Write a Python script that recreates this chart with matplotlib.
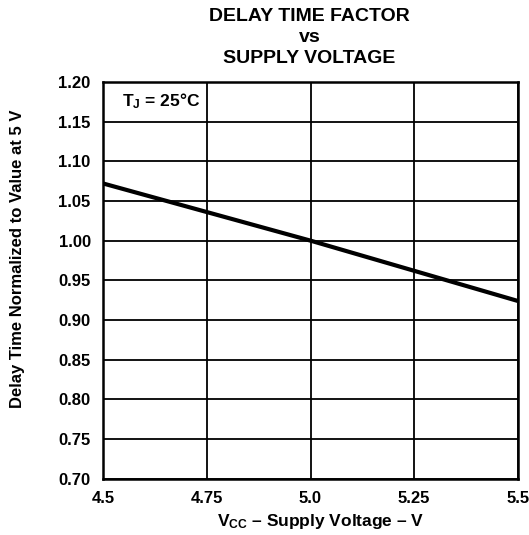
import matplotlib
matplotlib.use("Agg")
import matplotlib.pyplot as plt

plt.rcParams['font.family'] = ['Liberation Sans', 'DejaVu Sans']
plt.rcParams['font.weight'] = 'bold'
plt.rcParams['mathtext.default'] = 'bf'
plt.rcParams['mathtext.fontset'] = 'custom'
plt.rcParams['mathtext.bf'] = 'Liberation Sans:bold'
plt.rcParams['mathtext.rm'] = 'Liberation Sans:bold'

vcc = [4.5, 5.0, 5.5]
factor = [1.072, 1.0, 0.924]
xticks = [4.5, 4.75, 5.0, 5.25, 5.5]
xticklabels = ['4.5', '4.75', '5.0', '5.25', '5.5']
yticks = [0.70, 0.75, 0.80, 0.85, 0.90, 0.95, 1.00, 1.05, 1.10, 1.15, 1.20]

fig = plt.figure(figsize=(5.29, 5.35), dpi=100)
ax = fig.add_axes([0.195, 0.105, 0.784, 0.742])
ax.set_xlim(4.5, 5.5)
ax.set_ylim(0.70, 1.20)
ax.set_xticks(xticks)
ax.set_xticklabels(xticklabels)
ax.set_yticks(yticks)
ax.set_yticklabels([f"{v:.2f}" for v in yticks])
ax.grid(True, color='black', linewidth=1.3)
ax.tick_params(length=0, labelsize=12, pad=9)
for s in ax.spines.values():
    s.set_linewidth(1.8)
ax.plot(vcc, factor, color='black', linewidth=3, solid_capstyle='butt')
ax.text(0.045, 0.975, r'T$_\mathbf{J}$ = 25°C', transform=ax.transAxes,
        fontsize=12.5, fontweight='bold', va='top', ha='left')
fig.text(321 / 529, 1 - 526 / 535, r'V$_\mathbf{CC}$ – Supply Voltage – V',
         ha='center', va='baseline', fontsize=12.5, fontweight='bold')
fig.text(18 / 529, 1 - 259 / 535, 'Delay Time Normalized to Value at 5 V', rotation=90,
         ha='center', va='center', fontsize=12, fontweight='bold')
fig.text(0.585, 0.985, 'DELAY TIME FACTOR\nvs\nSUPPLY VOLTAGE', ha='center', va='top',
         fontsize=14, fontweight='bold', linespacing=1.3)
fig.savefig('out.png', dpi=100)
